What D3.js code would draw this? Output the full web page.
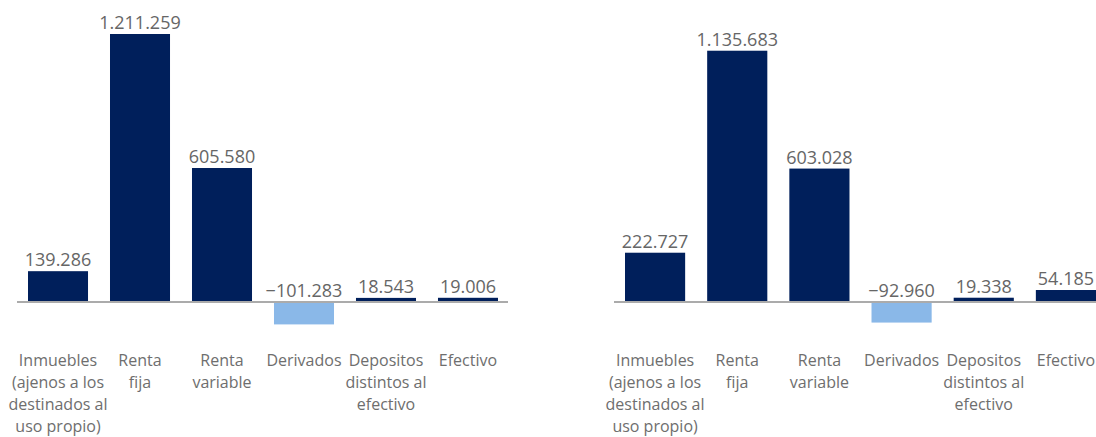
<!DOCTYPE html>
<html>
<head>
<meta charset="utf-8">
<script src="https://cdn.jsdelivr.net/npm/d3@7"></script>
<style>
  body { margin: 0; background: #fff; }
  svg text { font-family: "Open Sans", "Noto Sans", sans-serif; }
</style>
</head>
<body>
<div id="chart"></div>
<script>
const categories = [
  ["Inmuebles", "(ajenos a los", "destinados al", "uso propio)"],
  ["Renta", "fija"],
  ["Renta", "variable"],
  ["Derivados"],
  ["Depositos", "distintos al", "efectivo"],
  ["Efectivo"]
];
const valuesLeft = [139286, 1211259, 605580, -101283, 18543, 19006];
const valuesRight = [222727, 1135683, 603028, -92960, 19338, 54185];
const labelsLeft = ["139.286", "1.211.259", "605.580", "\u2212101.283", "18.543", "19.006"];
const labelsRight = ["222.727", "1.135.683", "603.028", "\u221292.960", "19.338", "54.185"];

const width = 1096, height = 437;
const svg = d3.select("#chart").append("svg")
  .attr("width", width)
  .attr("height", height);

const y = d3.scaleLinear()
  .domain([0, 1211259])
  .range([302, 34]);

function drawPanel(values, labels, range) {
  const idx = d3.range(values.length);
  const x = d3.scaleBand()
    .domain(idx)
    .range(range)
    .paddingInner(0.268)
    .paddingOuter(0);

  const g = svg.append("g");

  g.selectAll("rect")
    .data(idx)
    .join("rect")
    .attr("x", i => x(i))
    .attr("width", x.bandwidth())
    .attr("y", i => Math.min(y(values[i]), y(0)))
    .attr("height", i => Math.abs(y(values[i]) - y(0)))
    .attr("fill", i => values[i] < 0 ? "#8ab8e8" : "#001f5b");

  g.append("line")
    .attr("x1", range[0] - 11)
    .attr("x2", range[1] + 10)
    .attr("y1", y(0))
    .attr("y2", y(0))
    .attr("stroke", "#ababab")
    .attr("stroke-width", 2);

  g.selectAll("text.value")
    .data(idx)
    .join("text")
    .attr("class", "value")
    .attr("x", i => x(i) + x.bandwidth() / 2)
    .attr("y", i => Math.min(y(values[i]), y(0)) - 5)
    .attr("text-anchor", "middle")
    .attr("fill", "#666")
    .style("font-size", "18px")
    .text(i => labels[i]);

  const cat = g.selectAll("text.cat")
    .data(idx)
    .join("text")
    .attr("class", "cat")
    .attr("text-anchor", "middle")
    .attr("fill", "#6e6e6e")
    .style("font-size", "16px");

  cat.selectAll("tspan")
    .data(i => categories[i].map(t => ({ i, t })))
    .join("tspan")
    .attr("x", d => x(d.i) + x.bandwidth() / 2)
    .attr("y", (d, k) => 366 + k * 22)
    .text(d => d.t);
}

drawPanel(valuesLeft, labelsLeft, [28, 498]);
drawPanel(valuesRight, labelsRight, [625, 1096]);
</script>
</body>
</html>
